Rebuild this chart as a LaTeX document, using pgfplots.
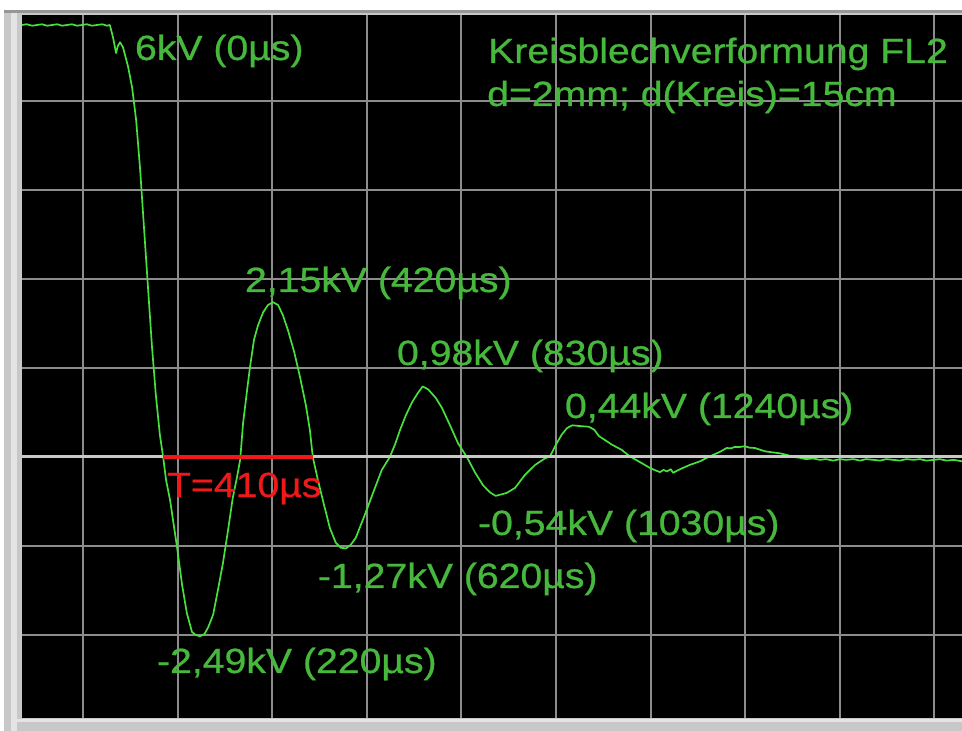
\documentclass[border=0pt]{standalone}
\usepackage{fontspec}
\setmainfont{Liberation Sans}[FakeStretch=1.12,FakeBold=0.7]
\usepackage{pgfplots}
\pgfplotsset{compat=1.18}
\definecolor{trace}{RGB}{70,225,60}
\definecolor{txt}{RGB}{70,185,60}
\definecolor{redline}{RGB}{240,25,25}
\definecolor{gridc}{RGB}{140,140,140}
\definecolor{zeroc}{RGB}{200,200,200}
\definecolor{frameg}{RGB}{200,200,200}
\definecolor{framel}{RGB}{228,228,228}
\definecolor{framed}{RGB}{150,150,150}
\tikzset{lbl/.style={font=\fontsize{17.5pt}{20pt}\selectfont, inner sep=0pt, outer sep=0pt, anchor=base west, text=txt}}
\begin{document}
\begin{tikzpicture}
\path[use as bounding box] (0,0) rectangle (481pt,365.5pt);
\fill[white] (0,0) rectangle (481pt,365.5pt);
\fill[frameg] (2pt,0) rectangle (481pt,360.5pt);
\fill[framed] (2pt,359pt) rectangle (481pt,360.5pt);
\fill[framel] (5.5pt,0) rectangle (8.5pt,359pt);
\fill[framel] (8.5pt,4.5pt) rectangle (481pt,6pt);
\begin{axis}[
  at={(11pt,6.5pt)}, anchor=south west,
  width=470pt, height=351.5pt, scale only axis,
  xmin=-267.7, xmax=2307.7, ymin=-3.625, ymax=6.139,
  axis background/.style={fill=black},
  axis line style={draw=none},
  xtick={-100.5,158.7,417.9,677.1,936.3,1195.5,1454.7,1713.9,1973.1,2232.3},
  ytick={-2.47,-1.235,1.235,2.47,3.705,4.94},
  xticklabels={}, yticklabels={},
  major tick length=0pt,
  grid=major,
  grid style={gridc, line width=1pt},
]
\addplot[trace, line width=0.85pt, line join=round] coordinates {
(-268,6.00) (-255,6.01) (-240,5.99) (-226,6.00) (-213,6.01) (-199,5.99) (-185,6.00) (-171,6.01) (-158,5.99) (-144,6.00) (-131,6.01) (-117,5.99) (-103,6.00) (-90,6.01) (-76,5.99) (-62,6.00) (-48,6.01) (-35,5.99) (-27,6.00) (-18,5.82) (-10,5.61) (-5,5.71) (1,5.76) (9,5.69)
(23,5.42) (34,5.13) (45,4.68) (56,3.99) (67,3.15) (78,2.32) (88,1.56) (99,0.86) (110,0.31) (119,0)
(127,-0.32) (138,-0.60) (157,-1.25) (171,-1.78) (184,-2.17) (198,-2.43) (208,-2.47) (220,-2.49) (232,-2.46) (242,-2.37) (256,-2.19) (269,-1.85) (283,-1.47) (297,-1.01) (310,-0.56) (321,-0.29) (330,-0.04)
(338,0.47) (349,0.93) (357,1.25) (368,1.63) (379,1.83) (393,2.01) (406,2.11) (420,2.15) (434,2.11) (447,1.97) (461,1.76) (478,1.46) (494,1.11) (510,0.72) (521,0.375) (529,0)
(543,-0.32) (560,-0.67) (576,-0.99) (592,-1.19) (606,-1.26) (620,-1.27) (633,-1.22) (647,-1.12) (671,-0.81) (697,-0.46) (718,-0.18) (740,0)
(754,0.17) (768,0.375) (784,0.58) (801,0.76) (817,0.89) (830,0.98) (845,0.94) (866,0.82) (883,0.68) (905,0.44) (927,0.19) (951,0)
(973,-0.21) (995,-0.39) (1014,-0.49) (1030,-0.54) (1045,-0.52) (1060,-0.50) (1083,-0.43) (1110,-0.25) (1138,-0.11) (1165,-0.02) (1179,0.01)
(1195,0.17) (1211,0.31) (1225,0.40) (1240,0.44) (1260,0.43) (1285,0.42) (1300,0.38) (1313,0.29) (1349,0.17) (1375,0.10) (1397,0.01)
(1425,-0.07) (1452,-0.15) (1470,-0.19) (1480,-0.21) (1490,-0.18) (1499,-0.20) (1510,-0.17) (1516,-0.22) (1535,-0.17) (1562,-0.11) (1590,-0.06) (1617,0.01)
(1644,0.07) (1663,0.125) (1675,0.12) (1685,0.14) (1700,0.14) (1713,0.15) (1725,0.13) (1740,0.125) (1755,0.10) (1767,0.08) (1780,0.07) (1795,0.06) (1810,0.05) (1827,0.03) (1845,0.0)
(1863,-0.01) (1880,-0.03) (1900,-0.02) (1918,-0.04) (1935,-0.03) (1955,-0.05) (1973,-0.03) (1990,-0.04) (2010,-0.03) (2028,-0.05) (2045,-0.03) (2065,-0.04) (2083,-0.05) (2100,-0.03) (2120,-0.04) (2138,-0.05) (2155,-0.03) (2175,-0.04) (2192,-0.03) (2210,-0.05) (2230,-0.04) (2247,-0.03) (2265,-0.05) (2285,-0.04) (2308,-0.06)
};
\addplot[zeroc, line width=1.5pt] coordinates {(-268,0) (2308,0)};
\addplot[redline, line width=2pt] coordinates {(119,0) (529,0)};
\node[lbl] at (axis cs:41.9,5.514) {6kV (0µs)};
\node[lbl] at (axis cs:1009.5,5.472) {Kreisblechverformung FL2};
\node[lbl] at (axis cs:1006.8,4.875) {d=2mm; d(Kreis)=15cm};
\node[lbl] at (axis cs:343.3,2.292) {2,15kV (420µs)};
\node[lbl] at (axis cs:759.7,1.278) {0,98kV (830µs)};
\node[lbl] at (axis cs:1220,0.542) {0,44kV (1240µs)};
\node[lbl, text=redline] at (axis cs:129.6,-0.556) {T=410µs};
\node[lbl] at (axis cs:981.7,-1.083) {-0,54kV (1030µs)};
\node[lbl] at (axis cs:543,-1.819) {-1,27kV (620µs)};
\node[lbl] at (axis cs:102.2,-3.0) {-2,49kV (220µs)};
\end{axis}
\end{tikzpicture}
\end{document}
